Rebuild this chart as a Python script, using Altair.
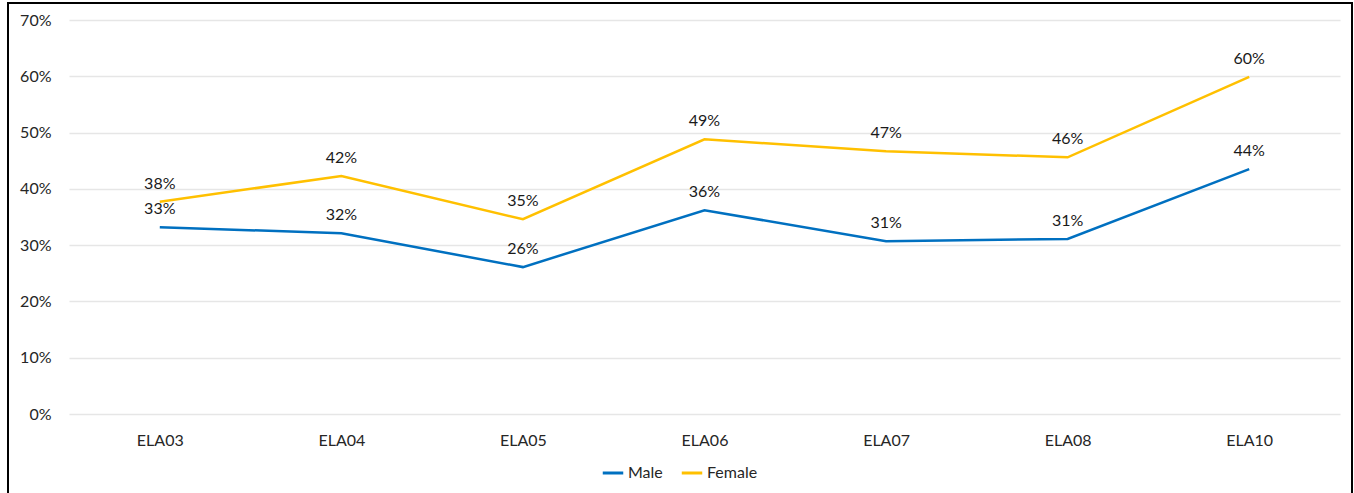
import altair as alt
import pandas as pd

categories = ["ELA03", "ELA04", "ELA05", "ELA06", "ELA07", "ELA08", "ELA10"]
male = [0.332, 0.321, 0.261, 0.362, 0.307, 0.311, 0.435]
female = [0.377, 0.423, 0.346, 0.488, 0.467, 0.456, 0.599]
series = ["Male", "Female"]
colors = ["#0070C0", "#FFC000"]

rows = []
for c, m, f in zip(categories, male, female):
    rows.append({"cat": c, "series": "Male", "value": m})
    rows.append({"cat": c, "series": "Female", "value": f})
df = pd.DataFrame(rows)

FONT = "Lato"
FS = 16

x = alt.X("cat:N", sort=categories, title=None,
          scale=alt.Scale(paddingInner=0, paddingOuter=0),
          axis=alt.Axis(labelAngle=0, ticks=False, domain=False, labelPadding=18,
                        labelFontSize=FS, labelColor="#262626", labelFont=FONT))
y = alt.Y("value:Q", title=None,
          scale=alt.Scale(domain=[0, 0.7], nice=False),
          axis=alt.Axis(format=".0%", values=[0, .1, .2, .3, .4, .5, .6, .7],
                        ticks=False, domain=False, labelPadding=18,
                        labelFontSize=FS, labelColor="#262626", labelFont=FONT,
                        gridColor="#e6e6e6", gridWidth=1.5))
color = alt.Color("series:N", scale=alt.Scale(domain=series, range=colors),
                  sort=series,
                  legend=alt.Legend(title=None, orient="none", direction="horizontal",
                                    legendX=532, legendY=441,
                                    symbolType="stroke", symbolStrokeWidth=3,
                                    symbolSize=420, labelFontSize=FS,
                                    labelFont=FONT, labelColor="#262626",
                                    columnPadding=12, labelOffset=3))

lines = alt.Chart(df).mark_line(strokeWidth=2.5).encode(x=x, y=y, color=color)
labels = alt.Chart(df).mark_text(dy=-18, fontSize=FS, font=FONT, color="#1a1a1a").encode(
    x=alt.X("cat:N", sort=categories), y="value:Q",
    text=alt.Text("value:Q", format=".0%"))

border = alt.Chart(pd.DataFrame({"a": [0]})).mark_rect(
    fill=None, stroke="black", strokeWidth=2).encode(
    x=alt.value(8 - 69), x2=alt.value(1352 - 69),
    y=alt.value(3 - 20), y2=alt.value(520))

chart = alt.layer(lines, labels, border).properties(
    width=1271, height=394,
    autosize=alt.AutoSizeParams(type="none"),
    padding={"left": 69, "top": 20, "right": 14, "bottom": 79},
    background="white",
).configure_view(stroke=None)

chart.save("out.html", embed_options={"renderer": "svg", "actions": False})
